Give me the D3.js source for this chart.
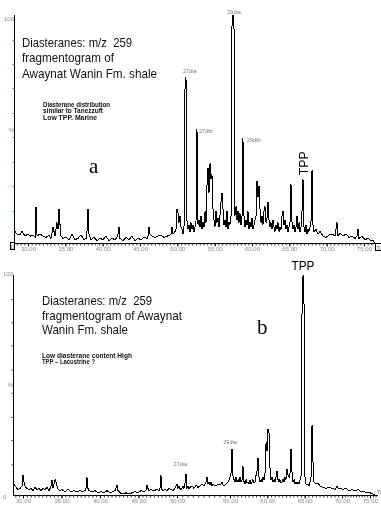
<!DOCTYPE html>
<html><head><meta charset="utf-8">
<script src="https://cdn.jsdelivr.net/npm/d3@7/dist/d3.min.js"></script>
<style>html,body{margin:0;padding:0;background:#fff;} svg{display:block;will-change:transform;}</style>
</head><body>
<script>
// ---------- DATA ----------
const xTickValues = [30, 35, 40, 45, 50, 55, 60, 65, 70, 75];
const yTickValues = [14, 25, 35.5, 46.5, 57, 68, 78.5, 89];

const titleTop = ["Diasteranes: m/z  259", "fragmentogram of", "Awaynat Wanin Fm. shale"];
const noteTop = ["Diasterane distribution", "similar to Tanezzuft", "Low TPP. Marine"];
const titleBottom = ["Diasteranes: m/z  259", "fragmentogram of Awaynat", "Wanin Fm. shale"];
const noteBottom = ["Low diasterane content High", "TPP \u2013 Lacustrine ?"];

// [retention time (min), relative intensity (%)]
const traceTop = [[28.13,4],[28.26,5],[28.53,4],[28.93,3.5],[29.20,5],[29.60,3],[30.00,4],[30.27,3],[30.67,3.5],[30.94,2.5],[31.07,16],[31.21,3],[31.61,4],[32.01,3],[32.41,2.5],[32.81,3.5],[33.08,2],[33.35,7],[33.62,3],[33.88,9],[34.02,6],[34.15,15],[34.29,8],[34.42,3],[34.69,2],[35.09,2.5],[35.49,1.5],[35.89,4],[36.29,1.5],[36.70,2],[37.10,3.5],[37.50,1.5],[37.77,2],[37.90,5],[38.04,15],[38.17,4],[38.44,1.5],[38.84,2.5],[39.24,1],[39.64,2],[40.04,1.5],[40.45,3],[40.85,1],[41.25,2],[41.65,1.5],[41.92,2.5],[42.05,4],[42.19,7],[42.32,2],[42.72,1],[43.13,2.5],[43.53,1.5],[43.93,3],[44.33,1],[44.73,2],[45.13,1.5],[45.54,2.5],[45.94,2],[46.07,3],[46.21,7],[46.34,4],[46.61,3],[47.01,2.5],[47.41,3],[47.81,3.5],[48.21,2.5],[48.62,3],[49.02,3.5],[49.15,4],[49.29,7],[49.42,4],[49.69,5],[49.82,6],[49.96,15],[50.09,13],[50.22,9],[50.36,12],[50.49,7],[50.63,6],[50.76,4],[50.89,5],[51.03,68],[51.16,73],[51.29,10],[51.43,6],[51.56,8],[51.70,5],[51.83,9],[51.96,6],[52.10,8],[52.23,5],[52.37,7],[52.50,9],[52.63,50],[52.77,8],[52.90,10],[53.04,7],[53.17,12],[53.30,6],[53.44,9],[53.57,7],[53.71,14],[53.84,9],[53.97,25],[54.11,33],[54.24,22],[54.38,35],[54.51,28],[54.64,30],[54.78,15],[54.91,10],[55.04,7],[55.18,14],[55.31,9],[55.45,11],[55.58,7],[55.71,12],[55.85,18],[55.98,22],[56.12,15],[56.25,8],[56.38,10],[56.52,7],[56.65,14],[56.79,6],[56.92,9],[57.05,8],[57.19,12],[57.32,95],[57.46,100],[57.59,94],[57.72,12],[57.86,16],[57.99,10],[58.13,14],[58.26,9],[58.39,13],[58.53,8],[58.66,11],[58.79,46],[58.93,12],[59.06,7],[59.20,10],[59.33,8],[59.46,14],[59.60,6],[59.73,9],[59.87,7],[60.00,11],[60.13,6],[60.27,8],[60.40,10],[60.54,12],[60.67,27],[60.80,20],[60.94,25],[61.07,15],[61.21,9],[61.34,12],[61.47,8],[61.61,14],[61.74,16],[61.88,9],[62.01,11],[62.14,18],[62.28,10],[62.41,7],[62.54,9],[62.68,6],[62.81,10],[62.95,7],[63.08,5],[63.21,8],[63.35,6],[63.48,9],[63.62,5],[63.75,7],[63.88,6],[64.02,12],[64.15,14],[64.29,8],[64.42,10],[64.55,6],[64.69,8],[64.82,5],[64.96,7],[65.09,9],[65.22,26],[65.36,9],[65.49,6],[65.63,8],[65.76,5],[65.89,7],[66.03,12],[66.16,6],[66.30,9],[66.43,5],[66.56,7],[66.70,14],[66.83,28],[66.96,7],[67.10,5],[67.23,8],[67.37,4],[67.50,6],[67.63,5],[67.77,7],[67.90,9],[68.04,32],[68.17,8],[68.30,5],[68.57,6],[68.84,4],[69.11,5],[69.51,3],[69.91,2.5],[70.31,3.5],[70.71,4],[71.12,3],[71.38,9],[71.52,3],[71.79,4.5],[72.19,3],[72.59,4],[72.99,2.5],[73.39,3],[73.79,2],[74.06,3],[74.20,6],[74.33,2],[74.73,3],[75.13,1.5],[75.54,2],[75.94,1],[76.21,1],[76.47,0]];

const traceBottom = [[28.70,4.5],[28.83,5],[29.09,3.5],[29.35,2.5],[29.61,3],[29.87,4],[30.00,9],[30.13,6],[30.26,4],[30.52,3],[30.78,2.5],[31.04,3],[31.30,2],[31.56,3.5],[31.82,2.5],[32.08,3],[32.34,2],[32.60,3],[32.86,2.5],[33.12,3.5],[33.38,2],[33.51,3],[33.64,4],[33.77,7],[33.90,3],[34.03,5],[34.16,7],[34.29,6],[34.42,4],[34.55,2.5],[34.81,2],[35.06,2.5],[35.45,1.5],[35.84,2.5],[36.23,1.5],[36.62,2],[37.01,1.5],[37.40,2],[37.79,1.5],[38.05,2],[38.18,3],[38.31,8],[38.44,3],[38.57,2],[38.96,1.5],[39.35,2],[39.74,1],[40.13,1.5],[40.52,1],[40.91,2],[41.30,1],[41.69,1.5],[41.95,2],[42.08,3],[42.21,4.5],[42.34,2],[42.60,1],[42.99,0.5],[43.38,1],[43.77,0.5],[44.16,1],[44.55,1.5],[44.94,1],[45.32,2],[45.71,1.5],[45.97,2],[46.10,4.5],[46.23,3],[46.36,2],[46.62,2.5],[47.01,2],[47.40,2.5],[47.66,2],[47.79,3],[47.92,9],[48.05,2.5],[48.18,2],[48.44,2.5],[48.70,2],[48.96,3],[49.22,2.5],[49.48,2],[49.74,3],[49.87,4],[50.00,5],[50.09,3],[50.19,4],[50.28,3],[50.38,2.5],[50.47,3],[50.57,4],[50.66,3],[50.75,5],[50.85,9.5],[50.94,3],[51.04,4],[51.13,3],[51.23,3.5],[51.42,4],[51.60,3],[51.79,4.5],[51.98,3.5],[52.17,4],[52.36,5],[52.55,4],[52.64,5],[52.74,6],[52.83,8],[52.92,5],[53.02,6],[53.11,4.5],[53.21,6],[53.30,4],[53.40,5],[53.49,4.5],[53.68,4],[53.87,5],[54.06,4.5],[54.15,5],[54.25,6],[54.34,4.5],[54.43,4],[54.62,5],[54.81,6],[54.91,7],[55.00,8],[55.14,10],[55.27,21],[55.41,8],[55.54,7],[55.67,6],[55.81,8],[55.94,6],[56.08,7],[56.21,6],[56.34,8],[56.48,6],[56.61,7],[56.74,13],[56.88,6],[57.01,5],[57.15,7],[57.28,5.5],[57.41,6],[57.55,5],[57.68,7],[57.82,5],[57.95,6],[58.08,7],[58.22,5.5],[58.35,6],[58.49,9],[58.62,11],[58.75,17],[58.89,8],[59.02,6],[59.16,7],[59.29,6],[59.42,8],[59.56,7],[59.69,10],[59.83,24],[59.96,20],[60.09,30],[60.23,28],[60.36,12],[60.49,7],[60.63,8],[60.76,6],[60.90,7],[61.03,6],[61.16,8],[61.30,11],[61.43,7],[61.57,6],[61.70,7],[61.83,5.5],[61.97,6],[62.10,7],[62.24,6],[62.37,8],[62.50,7],[62.64,12],[62.77,9],[62.91,8],[63.04,10],[63.17,21],[63.31,10],[63.44,6],[63.58,7],[63.71,5],[63.84,6],[63.98,5],[64.11,6],[64.25,5],[64.38,7],[64.51,8],[64.65,85],[64.78,100],[64.91,88],[65.05,6],[65.18,5],[65.32,4.5],[65.45,5],[65.58,4],[65.72,6],[65.85,8],[65.99,32],[66.12,15],[66.25,6],[66.52,5],[66.79,5.5],[67.06,4],[67.46,3.5],[67.86,3],[68.26,3.5],[68.66,3],[69.07,2.5],[69.33,4],[69.47,3],[69.74,3],[70.18,2.5],[70.71,3],[71.25,2],[71.79,2.5],[72.32,2],[72.86,2.5],[73.39,1.5],[73.93,1.5],[74.46,1],[75.00,1],[75.54,0.5],[75.89,0]];

const peakLabelsTop = [["27dia", 51.16, 73], ["27dbr", 52.63, 50], ["29dia", 57.46, 100], ["29dbr", 58.79, 46]];
const peakLabelsBottom = [["27dia", 50.85, 9.5], ["29dia", 55.27, 21]];
const tppTop = [66.83, 28];
const tppBottom = [64.78, 100];

// ---------- DRAW ----------
const W = 381, H = 507;
const svg = d3.select("body").append("svg").attr("width", W).attr("height", H);
svg.append("rect").attr("width", W).attr("height", H).attr("fill", "#fff");

const SANS = "'Liberation Sans', Arial, sans-serif";

const panels = [
  { trace: traceTop, x: d3.scaleLinear().domain([30, 75]).range([28, 364]),
    y: d3.scaleLinear().domain([0, 100]).range([243, 15]), axisX0: 14, axisX1: 375,
    tickColor: "#3c9a3c" },
  { trace: traceBottom, x: d3.scaleLinear().domain([30, 50, 55, 70, 75]).range([23, 177, 230, 342, 370]),
    y: d3.scaleLinear().domain([0, 100]).range([495, 275]), axisX0: 13, axisX1: 378,
    tickColor: "#444" }
];

panels.forEach((p, i) => {
  const g = svg.append("g");
  const y0 = p.y(0);
  g.append("line").attr("x1", p.axisX0 + 0.5).attr("x2", p.axisX0 + 0.5)
    .attr("y1", p.y(100)).attr("y2", y0).attr("stroke", "#000").attr("stroke-width", 1);
  const ya = g.append("g").attr("transform", `translate(${p.axisX0 + 0.5},0)`)
    .call(d3.axisLeft(p.y).tickValues(yTickValues).tickSize(2).tickFormat(""));
  ya.select(".domain").remove();
  ya.selectAll("line").attr("stroke", p.tickColor);

  g.append("line").attr("x1", p.axisX0).attr("x2", p.axisX1)
    .attr("y1", y0 + 0.5).attr("y2", y0 + 0.5).attr("stroke", "#000");
  const minor = d3.range(28.5, 76.1, 0.5).filter(v => p.x(v) > p.axisX0 + 1 && p.x(v) < p.axisX1 - 1);
  g.append("g").attr("transform", `translate(0,${y0 + 0.5})`)
    .call(d3.axisBottom(p.x).tickValues(minor).tickSize(2).tickFormat(""))
    .call(s => s.select(".domain").remove())
    .selectAll("line").attr("stroke", "#333");
  const xa = g.append("g").attr("transform", `translate(0,${y0 + 0.5})`)
    .call(d3.axisBottom(p.x).tickValues(xTickValues).tickSize(3).tickPadding(i === 0 ? 0 : 0.5)
      .tickFormat(d3.format(".2f")));
  xa.select(".domain").remove();
  xa.selectAll("line").attr("stroke", "#000");
  xa.selectAll("text").attr("font-family", SANS).attr("font-size", 6).attr("fill", "#888");

  const line = d3.line().x(d => p.x(d[0])).y(d => p.y(d[1]));
  g.append("path").datum(p.trace).attr("d", line)
    .attr("fill", "none").attr("stroke", "#000").attr("stroke-width", 1)
    .attr("stroke-linejoin", "miter").attr("shape-rendering", "crispEdges");
});

const pT = panels[0], pB = panels[1];
function small(txt, x, y, opts = {}) {
  return svg.append("text").attr("x", x).attr("y", y).text(txt)
    .attr("font-family", SANS).attr("font-size", opts.size || 6)
    .attr("fill", opts.fill || "#888").attr("text-anchor", opts.anchor || "start");
}
small("100", 4, 21);
small("%", 9, 132);
svg.append("rect").attr("x", 10.5).attr("y", 242.5).attr("width", 4).attr("height", 7)
  .attr("fill", "#fff").attr("stroke", "#000");
small("0", 11, 249, { size: 5, fill: "#666" });
svg.append("rect").attr("x", 375.5).attr("y", 243.5).attr("width", 6).attr("height", 7)
  .attr("fill", "#fff").attr("stroke", "#000");
small("Ti", 376.5, 249.5, { size: 5, fill: "#666" });

small("100", 3, 276);
small("%", 8, 387);
small("0", 3, 499, { size: 6 });
small("Ti", 377, 494, { size: 5, fill: "#666" });

function block(lines, x, y0, dy, size, widths, weight, fill) {
  lines.forEach((t, k) => {
    svg.append("text").attr("x", x).attr("y", y0 + k * dy).text(t)
      .style("white-space", "pre")
      .attr("font-family", SANS).attr("font-size", size).attr("font-weight", weight || "normal")
      .attr("fill", fill || "#000")
      .attr("textLength", widths[k]).attr("lengthAdjust", "spacingAndGlyphs");
  });
}
block(titleTop, 22, 46.5, 15.5, 13.5, [110, 92, 135], "normal", "#111");
block(noteTop, 43, 106.5, 6.8, 6.5, [67, 60, 54], "bold", "#111");
block(titleBottom, 42, 305, 14.5, 13.5, [110, 140, 86], "normal", "#111");
block(noteBottom, 42, 357.5, 6.8, 6.5, [90, 53], "bold", "#111");

svg.append("text").attr("x", 89).attr("y", 173).text("a")
  .attr("font-family", "'Liberation Serif', 'Times New Roman', serif").attr("font-size", 21).attr("fill", "#000");
svg.append("text").attr("x", 257).attr("y", 334).text("b")
  .attr("font-family", "'Liberation Serif', 'Times New Roman', serif").attr("font-size", 21).attr("fill", "#000");

svg.append("text").attr("transform", `translate(${pT.x(tppTop[0]) + 5},${pT.y(tppTop[1]) - 16}) rotate(-90)`)
  .text("TPP").attr("font-family", SANS).attr("font-size", 13).attr("text-anchor", "middle")
  .attr("textLength", 24).attr("lengthAdjust", "spacingAndGlyphs").attr("fill", "#000");
svg.append("text").attr("x", pB.x(tppBottom[0])).attr("y", pB.y(tppBottom[1]) - 5)
  .text("TPP").attr("font-family", SANS).attr("font-size", 13.5).attr("text-anchor", "middle")
  .attr("textLength", 23).attr("lengthAdjust", "spacingAndGlyphs").attr("fill", "#000");

const offTop = [[-3, -4, "start"], [2, 4, "start"], [1, -1, "middle"], [4, 4, "start"]];
peakLabelsTop.forEach((d, k) => {
  small(d[0], pT.x(d[1]) + offTop[k][0], pT.y(d[2]) + offTop[k][1], { size: 5.5, fill: "#777", anchor: offTop[k][2] });
});
const offBot = [[1, -8, "end"], [-2, -5, "middle"]];
peakLabelsBottom.forEach((d, k) => {
  small(d[0], pB.x(d[1]) + offBot[k][0], pB.y(d[2]) + offBot[k][1], { size: 5.5, fill: "#777", anchor: offBot[k][2] });
});
</script>
</body></html>
